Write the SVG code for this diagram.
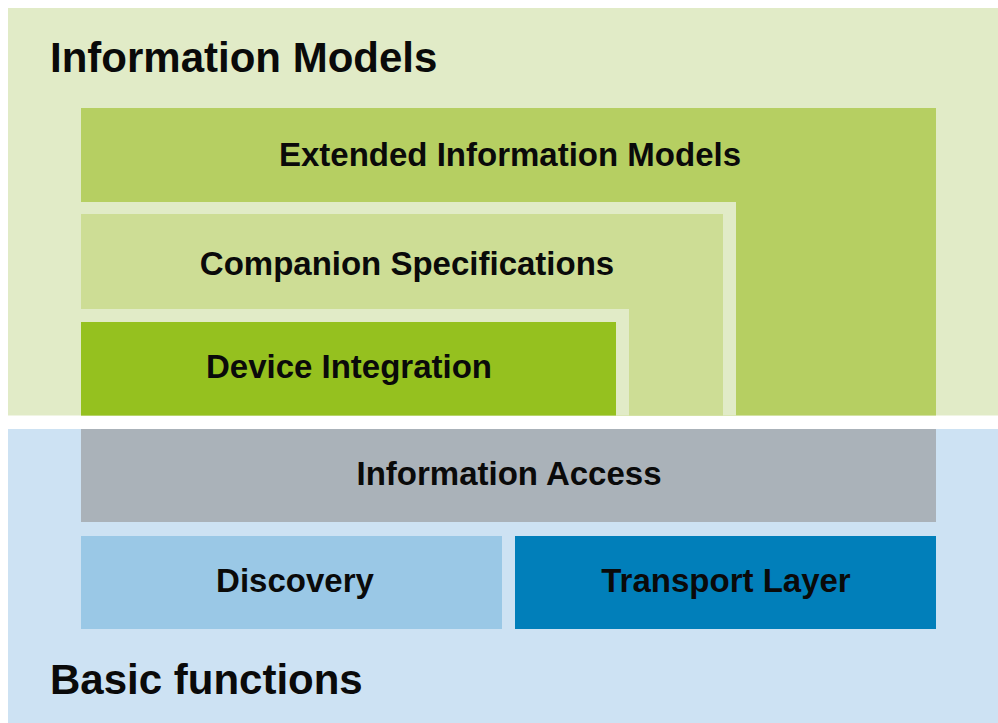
<svg xmlns="http://www.w3.org/2000/svg" width="998" height="723" viewBox="0 0 998 723">
<style>
text{font-family:"Liberation Sans",Arial,sans-serif;font-weight:bold;fill:#0a0a0a}
.t{font-size:42px}
.l{font-size:33px;text-anchor:middle}
</style>
<rect x="0" y="0" width="998" height="723" fill="#ffffff"/>
<g id="information-models">
<rect x="8" y="8" width="990" height="407.5" fill="#e1ebc7"/>
<text class="t" x="50" y="72">Information Models</text>
</g>
<g id="basic-functions">
<rect x="8" y="429" width="990" height="294" fill="#cde2f3"/>
<text class="t" x="50" y="694">Basic functions</text>
</g>
<g id="extended-information-models">
<rect x="81" y="108" width="855" height="307.5" fill="#b6cf62"/>
<text class="l" x="510" y="166">Extended Information Models</text>
</g>
<g id="companion-specifications">
<rect x="81" y="202" width="655" height="213.5" fill="#e1ebc7"/>
<rect x="81" y="214" width="642" height="201.5" fill="#cddd95"/>
<text class="l" x="407" y="275">Companion Specifications</text>
</g>
<g id="device-integration">
<rect x="81" y="309" width="548" height="106.5" fill="#e1ebc7"/>
<rect x="81" y="322" width="535" height="93.5" fill="#95c11f"/>
<text class="l" x="349" y="378">Device Integration</text>
</g>
<g id="information-access">
<rect x="81" y="429" width="855" height="93" fill="#aab2b9"/>
<text class="l" x="509" y="485">Information Access</text>
</g>
<g id="discovery">
<rect x="81" y="536" width="421" height="93" fill="#9ac8e6"/>
<text class="l" x="295" y="592">Discovery</text>
</g>
<g id="transport-layer">
<rect x="515" y="536" width="421" height="93" fill="#017fba"/>
<text class="l" x="726" y="592">Transport Layer</text>
</g>
<g id="connectors"/>
</svg>
